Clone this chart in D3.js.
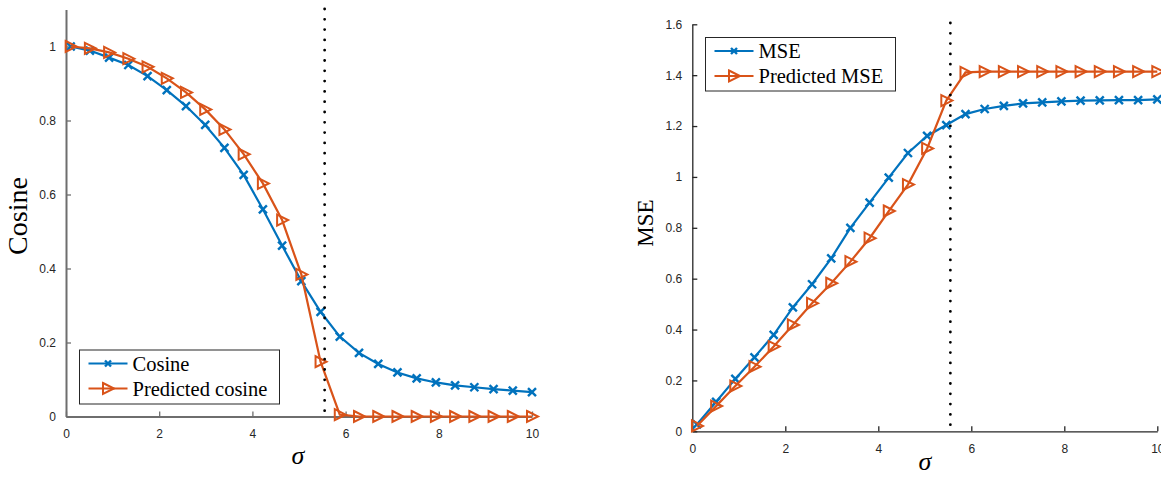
<!DOCTYPE html>
<html>
<head>
<meta charset="utf-8">
<script src="https://cdn.jsdelivr.net/npm/d3@7"></script>
<style>
  body { margin: 0; background: #fff; }
  .tick text { font-family: "Liberation Sans", Arial, sans-serif; font-size: 12px; fill: #262626; }
  .legend text { font-family: "Liberation Serif", "Times New Roman", serif; font-size: 20.5px; fill: #000; }
</style>
</head>
<body>
<svg id="chart" width="1161" height="479"></svg>
<script>
// sample positions (sigma), 25 points from 0.1 to 10
const sigma = [0.1, 0.5125, 0.925, 1.3375, 1.75, 2.1625, 2.575, 2.9875, 3.4, 3.8125,
  4.225, 4.6375, 5.05, 5.4625, 5.875, 6.2875, 6.7, 7.1125, 7.525, 7.9375,
  8.35, 8.7625, 9.175, 9.5875, 10];

// left panel
const cosine = [1.0, 0.989, 0.970, 0.950, 0.920, 0.882, 0.839, 0.788, 0.726, 0.653,
  0.560, 0.462, 0.366, 0.283, 0.216, 0.172, 0.142, 0.119, 0.103, 0.092,
  0.084, 0.079, 0.074, 0.070, 0.066];
const predictedCosine = [1.0, 0.995, 0.984, 0.967, 0.945, 0.914, 0.876, 0.830, 0.776, 0.709,
  0.630, 0.531, 0.384, 0.148, 0.005, 0, 0, 0, 0, 0,
  0, 0, 0, 0, 0];

// right panel
const mse = [0.027, 0.116, 0.206, 0.291, 0.379, 0.487, 0.578, 0.680, 0.800, 0.899,
  0.997, 1.094, 1.161, 1.204, 1.247, 1.267, 1.279, 1.289, 1.293, 1.297,
  1.300, 1.301, 1.302, 1.302, 1.305];
const predictedMse = [0.021, 0.099, 0.178, 0.254, 0.333, 0.418, 0.503, 0.582, 0.667, 0.759,
  0.866, 0.970, 1.112, 1.300, 1.411, 1.414, 1.414, 1.414, 1.414, 1.414,
  1.414, 1.414, 1.414, 1.414, 1.414];

const xTicks = [0, 2, 4, 6, 8, 10];
const cosineTicks = [0, 0.2, 0.4, 0.6, 0.8, 1];
const mseTicks = [0, 0.2, 0.4, 0.6, 0.8, 1, 1.2, 1.4, 1.6];
const threshold = 5.55;   // dotted vertical line

const blue = "#0072BD";
const orange = "#D95319";

const xMark = "M-4,-4L4,4M-4,4L4,-4";
const triMark = "M-5,-5.5L6,0L-5,5.5Z";

const svg = d3.select("#chart");

function drawPanel(p) {
  const x = d3.scaleLinear().domain([0, 10]).range([p.left, p.right]);
  const y = d3.scaleLinear().domain(p.yDomain).range([p.bottom, p.top]);
  const g = svg.append("g");

  // axes, ticks pointing inward like matlab
  const xAxis = d3.axisBottom(x).tickValues(xTicks).tickFormat(d3.format("d"))
    .tickSizeInner(-5).tickSizeOuter(0).tickPadding(13);
  const yAxis = d3.axisLeft(y).tickValues(p.yTicks).tickFormat(d => d3.format("~g")(d))
    .tickSizeInner(-5).tickSizeOuter(0).tickPadding(13);

  const gx = g.append("g").attr("transform", `translate(0,${p.bottom})`).call(xAxis);
  const gy = g.append("g").attr("transform", `translate(${p.left},0)`).call(yAxis);
  [gx, gy].forEach(a => {
    a.selectAll("path, line").attr("stroke", p.axisColor).attr("stroke-width", 1.3);
    a.select(".domain").attr("stroke-width", p.axisWidth);
  });
  gy.selectAll(".tick text").attr("dx", 3);

  const line = d3.line().x((d, i) => x(sigma[i])).y(d => y(d));

  // first series: blue with x markers
  g.append("path").datum(p.series[0])
    .attr("d", line).attr("fill", "none").attr("stroke", blue).attr("stroke-width", 2.2);
  g.selectAll(".xm").data(p.series[0]).join("path")
    .attr("transform", (d, i) => `translate(${x(sigma[i])},${y(d)})`)
    .attr("d", xMark)
    .attr("stroke", blue).attr("stroke-width", 2.4);

  // second series: orange with right triangles
  g.append("path").datum(p.series[1])
    .attr("d", line).attr("fill", "none").attr("stroke", orange).attr("stroke-width", 2.2);
  g.selectAll(".tm").data(p.series[1]).join("path")
    .attr("transform", (d, i) => `translate(${x(sigma[i])},${y(d)})`)
    .attr("d", triMark)
    .attr("fill", "none").attr("stroke", orange).attr("stroke-width", 2);

  // threshold line
  g.append("line")
    .attr("x1", x(threshold)).attr("x2", x(threshold))
    .attr("y1", p.dotTop).attr("y2", p.bottom)
    .attr("stroke", "#000").attr("stroke-width", 2.8)
    .attr("stroke-linecap", "round").attr("stroke-dasharray", "0 10.3");

  // legend
  const lg = g.append("g").attr("class", "legend");
  lg.append("rect")
    .attr("x", p.legend.x).attr("y", p.legend.y)
    .attr("width", p.legend.w).attr("height", p.legend.h)
    .attr("fill", "#fff").attr("stroke", "#262626").attr("stroke-width", 1);
  p.labels.forEach((label, k) => {
    const cy = p.legend.y + 13.5 + k * 25;
    const x0 = p.legend.x + 9, x1 = x0 + 39, xm = (x0 + x1) / 2;
    const c = k === 0 ? blue : orange;
    lg.append("line").attr("x1", x0).attr("x2", x1).attr("y1", cy).attr("y2", cy)
      .attr("stroke", c).attr("stroke-width", 2.2);
    if (k === 0) {
      lg.append("path").attr("transform", `translate(${xm},${cy})`)
        .attr("d", "M-3,-3L3,3M-3,3L3,-3").attr("stroke", c).attr("stroke-width", 2.4);
    } else {
      lg.append("path").attr("transform", `translate(${xm},${cy})`)
        .attr("d", triMark).attr("fill", "none")
        .attr("stroke", c).attr("stroke-width", 2);
    }
    lg.append("text").attr("x", x1 + 5).attr("y", cy + 7).text(label);
  });

  // axis labels
  g.append("text")
    .attr("x", p.sigmaX).attr("y", p.sigmaY)
    .attr("text-anchor", "middle")
    .style("font-family", "'Liberation Serif', serif").style("font-style", "italic")
    .style("font-size", "26px").text("σ");
  g.append("text")
    .attr("transform", `translate(${p.yLabel.x},${p.yLabel.y}) rotate(-90)`)
    .attr("text-anchor", "middle")
    .style("font-family", "'Liberation Serif', serif")
    .style("font-size", p.yLabel.size + "px").text(p.yLabel.text);
}

drawPanel({
  left: 66, right: 532, top: 9.5, bottom: 416.5, dotTop: 9,
  yDomain: [0, 1.1], yTicks: cosineTicks,
  axisColor: "#6e6e6e", axisWidth: 2,
  series: [cosine, predictedCosine],
  labels: ["Cosine", "Predicted cosine"],
  legend: { x: 79.5, y: 350, w: 200, h: 54 },
  sigmaX: 298, sigmaY: 464,
  yLabel: { x: 27, y: 216, size: 28, text: "Cosine" }
});

drawPanel({
  left: 692.3, right: 1157.3, top: 24.3, bottom: 431.3, dotTop: 23,
  yDomain: [0, 1.6], yTicks: mseTicks,
  axisColor: "#262626", axisWidth: 1.3,
  series: [mse, predictedMse],
  labels: ["MSE", "Predicted MSE"],
  legend: { x: 705.5, y: 37.5, w: 190, h: 53.5 },
  sigmaX: 925, sigmaY: 470,
  yLabel: { x: 653, y: 223, size: 23, text: "MSE" }
});
</script>
</body>
</html>
